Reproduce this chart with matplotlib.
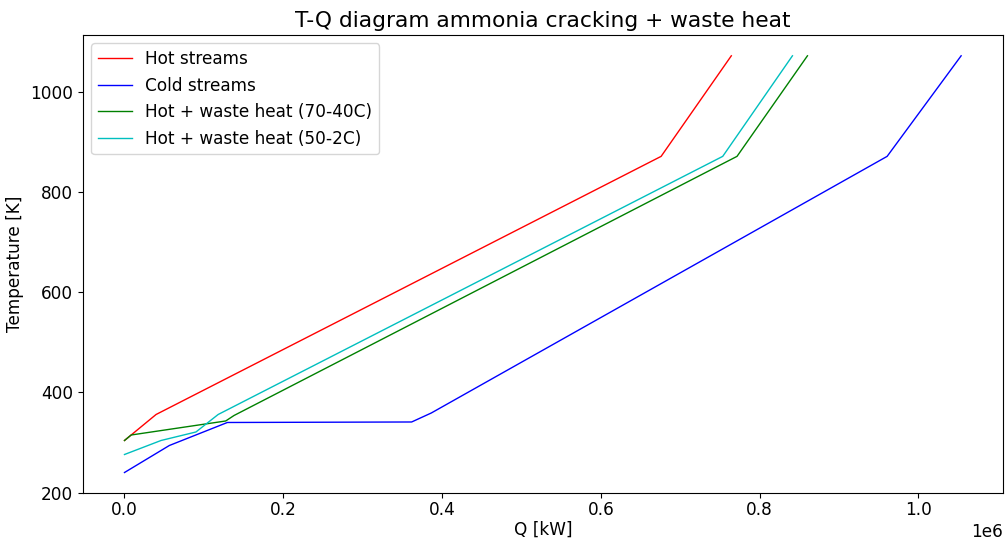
import numpy as np
import matplotlib
matplotlib.use('Agg')
import matplotlib.pyplot as plt

plt.rcParams['font.size'] = 12.2
plt.rcParams['xtick.major.pad'] = 1.8

# hot streams
q_hot = [0, 39800, 676000, 764400]
t_hot = [304, 356, 872, 1073]

# cold streams
q_cold = [0, 56500, 129600, 361700, 386500, 960700, 1053900]
t_cold = [240, 294, 340, 341, 359, 872, 1073]

# hot + waste heat (70-40C)
q_w1 = [0, 8400, 127500, 138000, 771600, 860300]
t_w1 = [304, 315, 343, 354, 872, 1073]

# hot + waste heat (50-2C)
q_w2 = [0, 46000, 90000, 118000, 753600, 841400]
t_w2 = [276, 304, 321, 356, 872, 1073]

fig = plt.figure(figsize=(10.08, 5.38), dpi=100)
plt.plot(q_hot, t_hot, 'r-', linewidth=1, label='Hot streams')
plt.plot(q_cold, t_cold, 'b-', linewidth=1, label='Cold streams')
plt.plot(q_w1, t_w1, 'g-', linewidth=1, label='Hot + waste heat (70-40C)')
plt.plot(q_w2, t_w2, 'c-', linewidth=1, label='Hot + waste heat (50-2C)')
plt.xlabel('Q [kW]', labelpad=1.5)
plt.ylabel('Temperature [K]')
plt.title('T-Q diagram ammonia cracking + waste heat', fontsize=15.7)
plt.legend(loc='upper left')
plt.subplots_adjust(left=0.082, right=0.995, top=0.935, bottom=0.083)
plt.savefig('out.png')
